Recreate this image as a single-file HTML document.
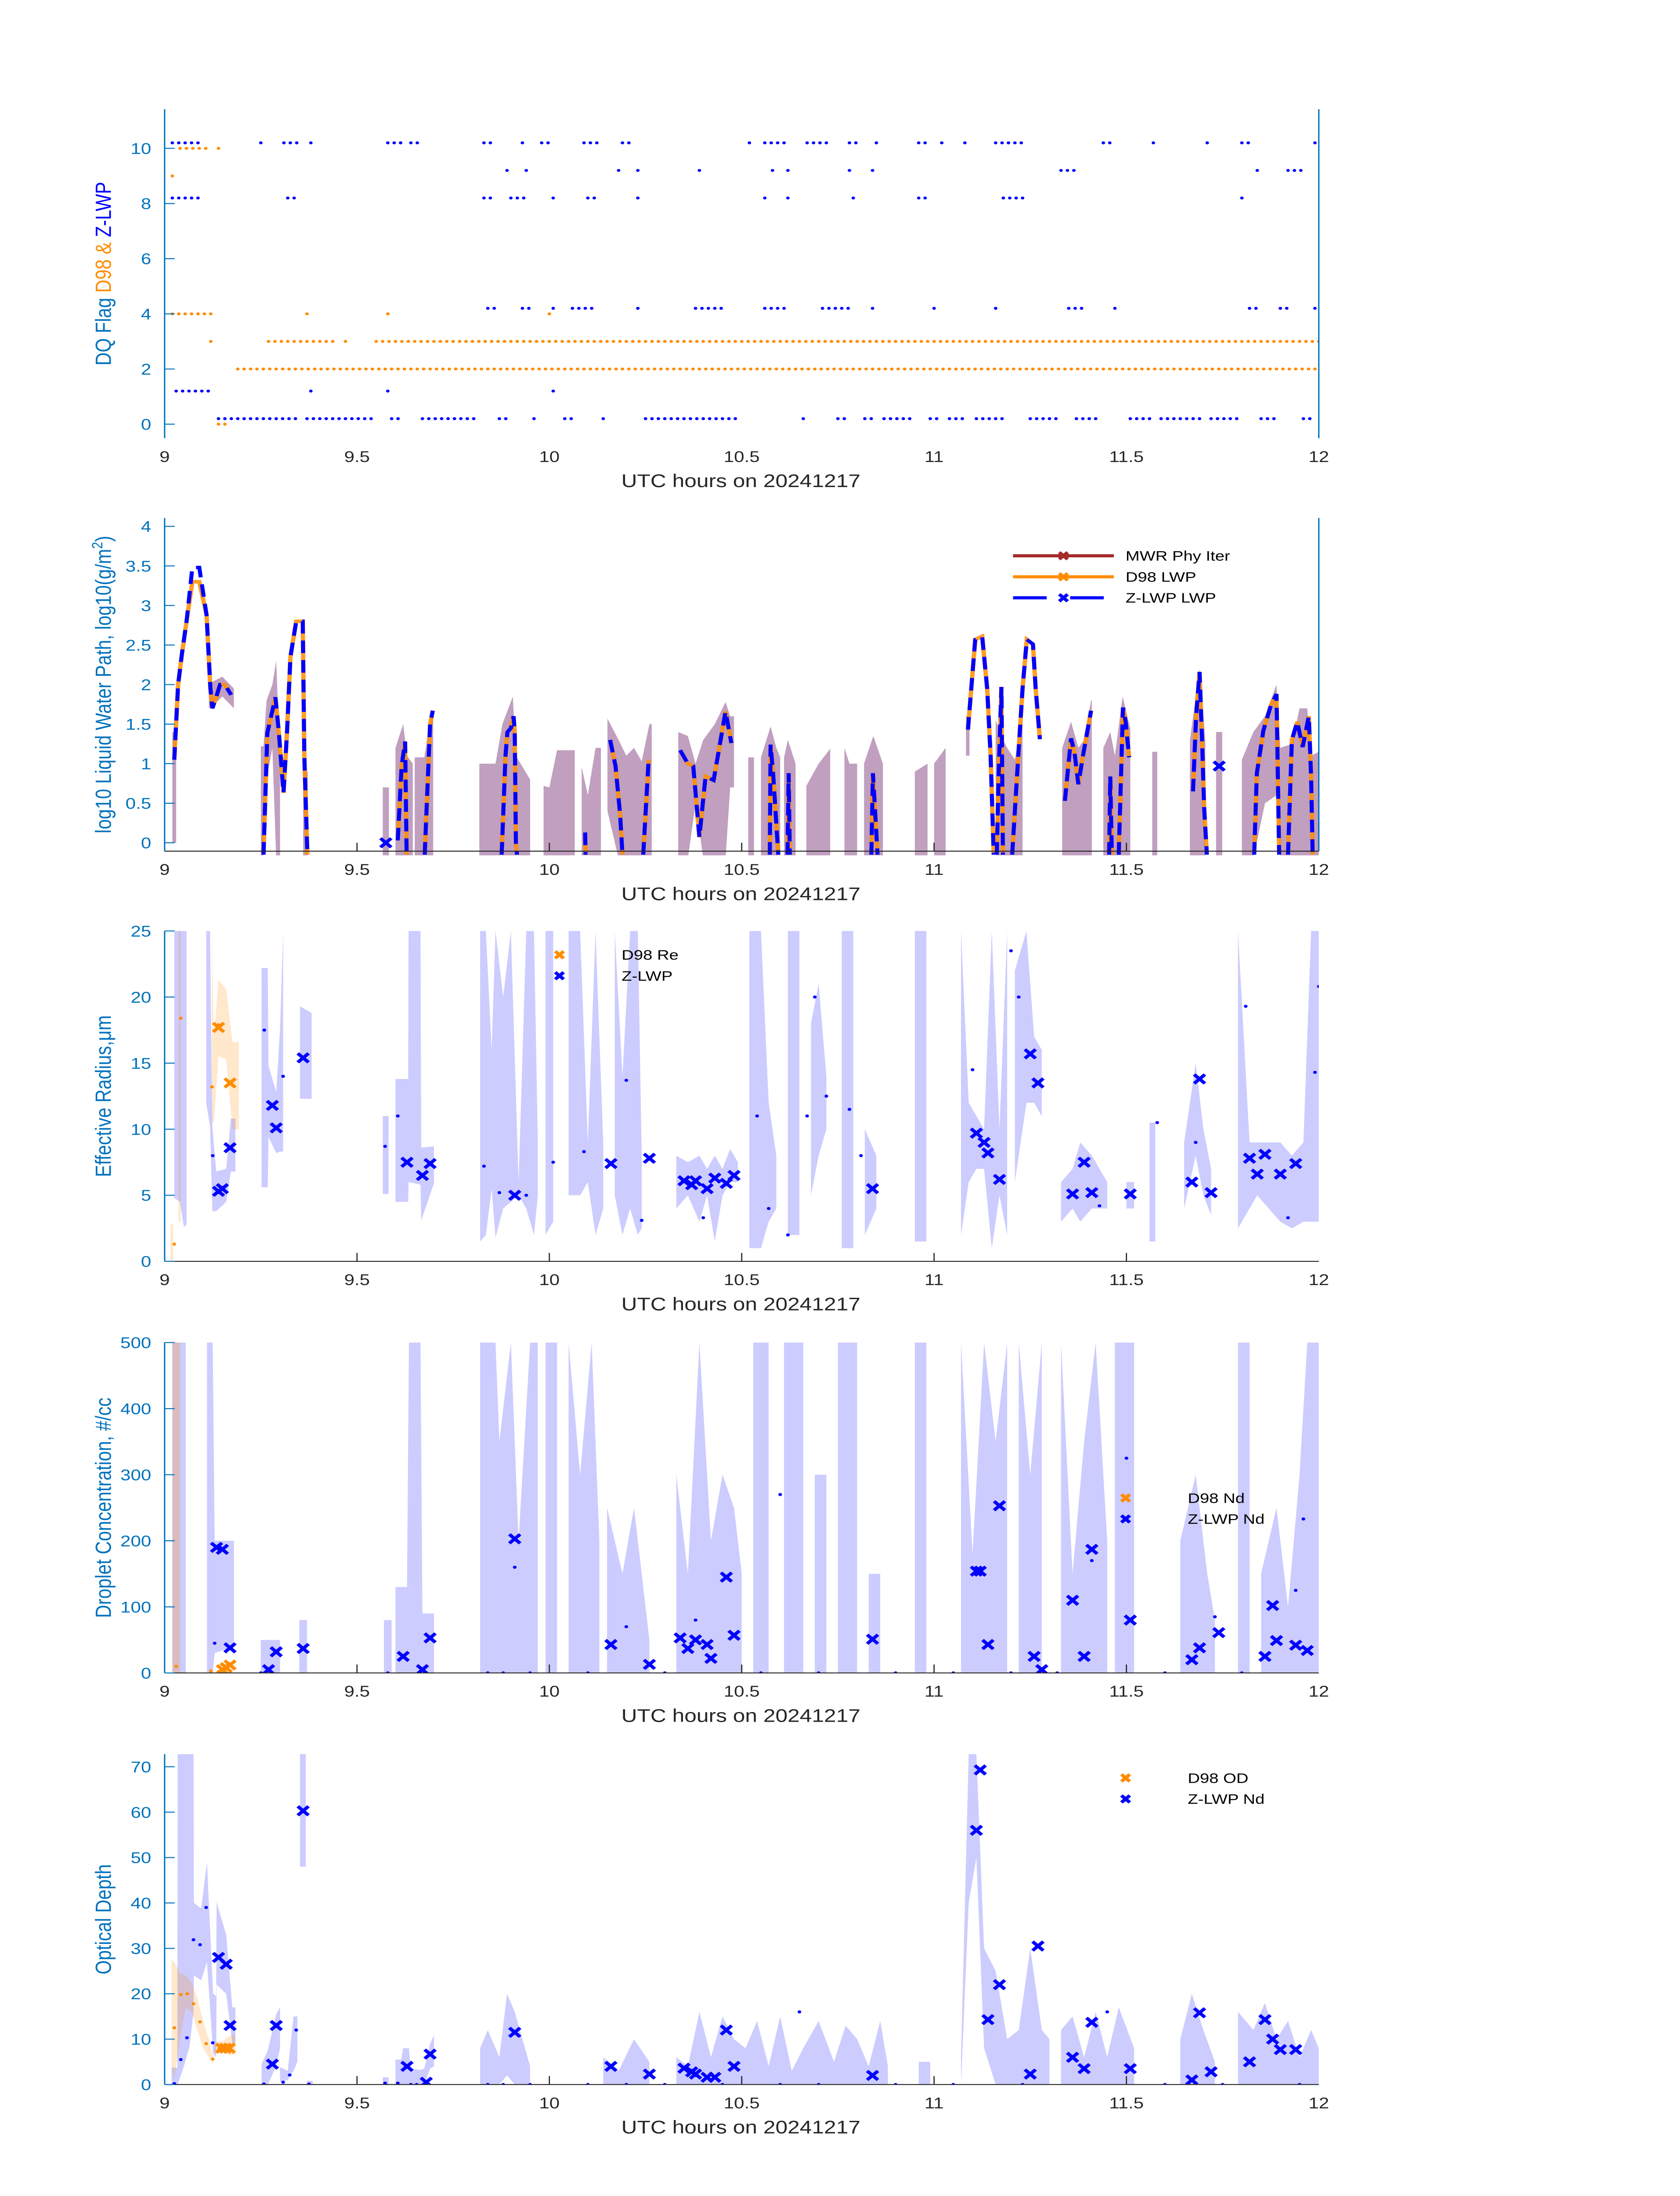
<!DOCTYPE html>
<html><head><meta charset="utf-8"><title>Cloud retrieval QC charts</title>
<style>
html,body{margin:0;padding:0;background:#fff;overflow:hidden;}
svg{display:block;position:absolute;left:0;top:0;width:100vw;height:100vh;font-family:"Liberation Sans","DejaVu Sans",sans-serif;}
</style></head>
<body>
<svg id="fig" xmlns="http://www.w3.org/2000/svg" viewBox="0 0 1000 1568.63" preserveAspectRatio="none"></svg>
<script>
// ---------- Panel 1: DQ flags (runs: level, start hour, end hour) ----------
const zFlagLevels = [10.2,10.2,10.2,10.2,10.2,10.2,10.2,10.2,10.2,10.2,10.2,10.2,10.2,10.2,10.2,10.2,10.2,10.2,10.2,10.2,10.2,10.2,10.2,10.2,10.2,
 9.2,9.2,9.2,9.2,9.2,9.2,9.2,9.2,9.2,9.2,9.2,9.2,
 8.2,8.2,8.2,8.2,8.2,8.2,8.2,8.2,8.2,8.2,8.2,8.2,8.2,
 4.2,4.2,4.2,4.2,4.2,4.2,4.2,4.2,4.2,4.2,4.2,4.2,4.2,4.2,4.2,4.2,
 1.2,1.2,1.2,1.2,
 0.2,0.2,0.2,0.2,0.2,0.2,0.2,0.2,0.2,0.2,0.2,0.2,0.2,0.2,0.2,0.2,0.2,0.2,0.2,0.2,0.2,0.2,0.2];
const zFlagStart = [9.02,9.25,9.31,9.38,9.58,9.64,9.83,9.93,9.98,10.09,10.19,10.52,10.56,10.67,10.78,10.85,10.96,11.02,11.08,11.16,11.44,11.57,11.71,11.80,11.99,
 9.89,9.94,10.18,10.23,10.39,10.58,10.62,10.78,10.84,11.33,11.84,11.92,
 9.02,9.32,9.83,9.90,10.01,10.10,10.23,10.56,10.62,10.79,10.96,11.18,11.80,
 9.84,9.93,10.01,10.06,10.23,10.38,10.56,10.71,10.84,11.00,11.16,11.35,11.47,11.82,11.90,11.99,
 9.03,9.38,9.58,10.01,
 9.14,9.37,9.59,9.67,9.87,9.96,10.04,10.14,10.25,10.66,10.75,10.82,10.87,10.99,11.04,11.11,11.25,11.37,11.51,11.59,11.72,11.85,11.96];
const zFlagEnd = [9.10,9.25,9.35,9.38,9.62,9.66,9.86,9.93,10.01,10.13,10.22,10.52,10.62,10.72,10.80,10.85,10.99,11.02,11.08,11.24,11.47,11.57,11.71,11.83,11.99,
 9.89,9.94,10.18,10.23,10.39,10.58,10.62,10.78,10.84,11.37,11.84,11.96,
 9.10,9.35,9.86,9.94,10.01,10.13,10.23,10.56,10.62,10.79,10.99,11.24,11.80,
 9.86,9.96,10.01,10.12,10.23,10.45,10.62,10.78,10.84,11.00,11.16,11.39,11.47,11.84,11.93,11.99,
 9.12,9.38,9.58,10.01,
 9.35,9.55,9.62,9.81,9.90,9.97,10.07,10.15,10.49,10.66,10.78,10.84,10.94,11.02,11.08,11.19,11.33,11.43,11.56,11.69,11.79,11.89,11.98];
const dFlagLevels = [10,10,9,4,4,4,4,3,3,3,3,2,0];
const dFlagStart = [9.04,9.14,9.02,9.02,9.37,9.58,10.00,9.12,9.27,9.47,9.55,9.19,9.14];
const dFlagEnd   = [9.12,9.14,9.02,9.12,9.37,9.58,10.00,9.12,9.45,9.47,12.0,12.0,9.17];

// ---------- Panel 2: LWP ----------
const lwpT = [9.025,9.035,9.045,9.057,9.072,9.09,9.109,9.119,9.124,9.134,9.144,9.156,9.173,null,
 9.257,9.267,9.288,9.297,9.309,9.318,9.327,9.342,9.359,9.363,9.371,null,
 9.606,9.616,9.625,9.629,null, 9.676,9.69,9.697,null,
 9.876,9.886,9.891,9.9,9.907,9.91,9.913,9.916,null, 10.093,10.094,null,
 10.158,10.172,10.184,10.19,null, 10.244,10.258,null,
 10.34,10.36,10.374,10.39,10.406,10.427,10.458,10.473,null,
 10.573,10.575,10.582,10.595,null, 10.619,10.622,10.625,null, 10.837,10.841,10.846,10.853,null,
 11.088,11.107,11.125,11.138,11.147,11.155,null, 11.163,11.168,11.175,11.179,null,
 11.203,11.22,11.23,11.241,11.257,11.264,11.275,null,
 11.34,11.356,11.365,11.375,11.387,11.408,null, 11.455,11.458,11.462,null, 11.48,11.491,11.498,11.507,null,
 11.673,11.681,11.69,11.696,11.702,11.709,null,
 11.832,11.839,11.856,11.875,11.89,11.897,null, 11.92,11.93,11.944,11.958,11.974,11.98,11.984];
const zLwp = [1.05,2.0,2.39,2.8,3.48,3.48,2.88,1.95,1.70,1.84,2.0,2.0,1.87,null,
 -0.15,1.39,1.84,1.39,0.63,1.39,2.35,2.8,2.8,1.11,-0.15,null,
 0.03,0.97,1.28,-0.15,null, -0.15,1.5,1.67,null,
 -0.15,1.1,1.4,1.45,1.6,1.4,0,-0.15,null, 0.13,-0.15,null,
 1.3,0.97,0.35,-0.15,null, -0.15,1.05,null,
 1.17,1.0,0.97,0.07,0.84,0.79,1.66,1.26,null,
 -0.15,1.24,0.85,-0.15,null, -0.15,0.88,-0.15,null, -0.15,0.88,0.46,-0.15,null,
 1.43,2.57,2.61,1.95,1.1,-0.15,null, -0.15,0.88,1.97,-0.15,null,
 -0.15,1.19,1.95,2.57,2.51,1.95,1.31,null,
 0.53,1.32,1.14,0.74,1.1,1.67,null, -0.15,0.84,-0.15,null, -0.15,1.71,1.53,1.08,null,
 0.65,1.59,2.16,1.39,0.44,-0.15,null,
 -0.15,0.88,1.42,1.73,1.88,-0.15,null, -0.15,1.3,1.53,1.21,1.6,0.83,-0.15];
const d98Lwp = [1.05,2.0,2.39,2.8,3.3,3.3,2.88,1.95,1.70,1.84,2.0,2.0,1.87,null,
 -0.15,1.39,1.84,1.39,0.63,1.39,2.35,2.8,2.8,1.11,-0.15,null,
 0.03,0.97,1.28,-0.15,null, -0.15,1.5,1.67,null,
 -0.15,1.1,1.4,1.45,1.6,1.4,0,-0.15,null, 0.13,-0.15,null,
 1.3,0.97,0.35,-0.15,null, -0.15,1.05,null,
 1.17,1.0,0.97,0.07,0.84,0.79,1.66,1.26,null,
 -0.15,1.24,0.85,-0.15,null, -0.15,0.88,-0.15,null, -0.15,0.88,0.46,-0.15,null,
 1.43,2.57,2.61,1.95,1.1,-0.15,null, -0.15,0.88,1.97,-0.15,null,
 -0.15,1.19,1.95,2.57,2.51,1.95,1.31,null,
 0.53,1.32,1.14,0.74,1.1,1.67,null, -0.15,0.84,-0.15,null, -0.15,1.71,1.53,1.08,null,
 0.65,1.59,2.16,1.39,0.44,-0.15,null,
 -0.15,0.88,1.42,1.73,1.88,-0.15,null, -0.15,1.3,1.53,1.21,1.6,0.83,-0.15];
const lwpMarkT = [9.575,11.741];
const lwpMarkV = [0,0.97];
const lwpBandT = [9.02,9.03,null,9.115,9.13,9.15,9.18,null,9.25,9.257,9.265,9.28,9.29,9.3,null,9.36,9.372,null,9.567,9.583,null,
 9.6,9.62,9.63,9.645,null,9.65,9.675,9.685,9.695,9.698,null,9.818,9.86,9.878,9.905,9.913,9.95,null,
 9.985,10.0,10.02,10.066,null,10.084,10.1,10.12,10.134,null,10.151,10.18,10.20,10.22,10.24,10.26,10.266,null,
 10.335,10.36,10.38,10.40,10.43,10.458,10.47,10.48,null,10.517,10.532,null,10.55,10.575,10.59,10.60,null,10.61,10.62,10.64,null,
 10.668,10.7,10.73,null,10.767,10.78,10.80,null,10.818,10.842,10.867,null,10.95,10.983,null,11.0,11.03,null,11.083,11.092,null,
 11.16,11.18,11.19,11.21,11.23,null,11.333,11.356,11.375,11.39,11.408,11.41,null,11.44,11.458,11.47,11.49,11.51,null,
 11.567,11.58,null,11.665,11.69,11.705,null,11.733,11.749,null,11.80,11.83,11.86,11.89,11.9,11.93,11.95,11.97,11.98,12.0];
const lwpBandLo = [0,0,null,1.7,1.75,1.85,1.7,null,-0.2,-0.2,0.8,1.2,-0.2,-0.2,null,-0.2,-0.2,null,-0.2,-0.2,null,
 -0.2,-0.2,-0.2,-0.2,null,-0.2,-0.2,-0.2,-0.2,-0.2,null,-0.2,-0.2,-0.2,-0.2,-0.2,-0.2,null,
 -0.2,-0.2,-0.2,-0.2,null,-0.2,-0.2,-0.2,-0.2,null,0.4,-0.2,-0.2,-0.2,-0.2,-0.2,-0.2,null,
 -0.2,-0.2,0.5,-0.2,-0.2,-0.2,0.7,0.7,null,-0.2,-0.2,null,-0.2,-0.2,-0.2,-0.2,null,-0.2,-0.2,-0.2,null,
 -0.2,-0.2,-0.2,null,-0.2,-0.2,-0.2,null,-0.2,-0.2,-0.2,null,-0.2,-0.2,null,-0.2,-0.2,null,1.1,1.1,null,
 -0.2,-0.2,-0.2,-0.2,-0.2,null,-0.2,-0.2,-0.2,-0.2,-0.2,-0.2,null,-0.2,-0.2,-0.2,-0.2,-0.2,null,
 -0.2,-0.2,null,-0.2,-0.2,-0.2,null,-0.2,-0.2,null,-0.2,-0.2,0.5,0.6,-0.2,-0.2,-0.2,-0.2,-0.2,-0.2];
const lwpBandHi = [1.4,1.4,null,2.0,2.05,2.1,1.95,null,1.22,1.22,1.8,2.0,2.3,1.0,null,0.9,0.9,null,0.7,0.7,null,
 1.2,1.5,1.1,1.0,null,1.08,1.08,1.4,1.67,1.67,null,1.0,1.0,1.5,1.85,1.1,0.8,null,
 0.72,0.7,1.17,1.17,null,0.96,0.6,1.2,1.2,null,1.57,1.3,1.1,1.2,1.03,1.5,1.5,null,
 1.4,1.35,1.0,1.3,1.5,1.78,1.6,1.6,null,1.08,1.08,null,1.08,1.47,1.2,1.08,null,1.08,1.3,1.0,null,
 0.72,1.0,1.19,null,1.2,1.0,1.0,null,1.0,1.35,1.0,null,0.9,1.0,null,1.0,1.2,null,1.6,1.6,null,
 1.55,1.3,1.2,1.05,1.6,null,1.2,1.53,1.2,1.3,1.8,1.8,null,1.2,1.4,1.1,1.85,1.45,null,
 1.15,1.15,null,1.3,2.2,1.3,null,1.4,1.4,null,1.05,1.4,1.6,2.0,1.2,1.25,1.7,1.7,1.1,1.15];

// ---------- Panel 3: effective radius ----------
const reBandT = [9.025,9.04,9.05,9.057,null,9.108,9.118,9.124,9.134,9.16,9.172,9.184,null,9.252,9.268,9.27,9.29,9.30,9.308,null,9.352,9.382,null,9.567,9.582,null,
 9.60,9.633,9.634,9.665,9.667,9.70,null,9.82,9.835,9.85,9.86,9.88,9.90,9.92,9.94,9.96,9.97,null,9.99,10.01,null,10.05,10.08,10.10,10.12,10.14,null,
 10.17,10.19,10.21,10.23,10.24,null,10.33,10.36,10.39,10.41,10.43,10.45,10.47,10.49,null,10.52,10.55,10.57,10.59,null,10.62,10.65,null,10.68,10.70,10.72,null,
 10.76,10.79,null,10.82,10.85,null,10.95,10.98,null,11.07,11.09,11.11,11.13,11.15,11.17,11.19,null,11.21,11.24,11.26,11.28,null,
 11.33,11.36,11.38,11.41,11.43,11.45,null,11.50,11.52,null,11.56,11.575,null,11.65,11.68,11.70,11.72,null,11.79,11.82,11.84,11.87,11.90,11.93,11.96,11.98,12.0];
const reBandLo = [4.8,4.5,2.6,2.8,null,12,10.2,3.8,3.8,4.5,6.8,6.8,null,5.6,5.6,9.4,8.2,8.3,8.3,null,12.3,12.3,null,5.1,5.1,null,
 4.5,4.5,6,5.8,3.1,5.9,null,1.5,2,5.5,1.8,4,4.5,5,4,2,5,null,2,3,null,5,5,6,2,4,null,
 5,2,4,2,2.5,null,4,5,3,5,1.5,5,6,6,null,1,1,3,4,null,2,2,null,5,8,10,null,
 1,1,null,2,4,null,1.5,1.5,null,2,6,7,7,1,5,2,null,6,12,12,11,null,
 3,4,3,4,4,4,null,4,4,null,1.5,1.5,null,4,8,5,3.5,null,2.5,4,5,4,3,2.5,3,3,3];
const reBandHi = [25,25,25,25,null,25,25,10.2,6.8,7,10.8,10.8,null,22.2,22.2,14.8,12.8,17.6,25,null,19.3,18.8,null,11,11,null,
 13.8,13.8,25,25,8.6,8.7,null,25,25,16,25,20,25,6,25,25,9,null,25,25,null,25,25,9,25,9,null,
 25,14,25,25,8,null,8,7.5,8,7,8,7,8.5,7.5,null,25,25,12,8,null,25,25,null,18,21,14,null,
 25,25,null,10,8,null,25,25,null,25,12,11,10,25,10,25,null,22,25,17,16,null,
 6,7,9,8,7,6,null,6,6,null,10.5,10.5,null,9,15,10,7,null,25,9,9,9,9,8,9,25,25];
const reOrBandT = [9.015,9.022,null,9.036,9.042,null,9.123,9.128,9.14,9.16,9.176,9.193];
const reOrBandLo = [0,0,null,3,3,null,10.5,10.5,15.5,15.3,10,10];
const reOrBandHi = [2.8,2.8,null,25,25,null,25,17,21.3,20.6,16.6,16.6];
const reZxT = [9.14,9.15,9.17,9.28,9.29,9.36,9.63,9.67,9.69,9.91,10.16,10.26,10.35,10.37,10.38,10.41,10.43,10.46,10.48,10.84,11.11,11.13,11.14,11.17,11.25,11.27,11.36,11.39,11.41,11.51,11.67,11.69,11.72,11.82,11.84,11.86,11.90,11.94];
const reZxV = [5.3,5.5,8.6,11.8,10.1,15.4,7.5,6.5,7.4,5,7.4,7.8,6.1,5.8,6.1,5.5,6.3,5.9,6.5,5.5,9.7,9.0,8.2,6.2,15.7,13.5,5.1,7.5,5.2,5.1,6.0,13.8,5.2,7.8,6.6,8.1,6.6,7.4];
const reDxT = [9.14,9.17];
const reDxV = [17.7,13.5];
const reZdotT = [9.125,9.259,9.308,9.573,9.606,9.83,9.87,9.94,10.01,10.09,10.20,10.24,10.40,10.54,10.57,10.62,10.67,10.69,10.72,10.78,10.81,11.10,11.22,11.20,11.68,11.81,11.92,11.99,12.0,11.43,11.58];
const reZdotV = [8,17.5,14,8.7,11,7.2,5.2,5,7.5,8.3,13.7,3.1,3.3,11,4,2,11,20,12.5,11.5,8,14.5,20,23.5,9,19.3,3.3,14.3,20.8,4.2,10.5];
const reDdotT = [9.025,9.042,9.123,9.14];
const reDdotV = [1.3,18.4,13.2,17.9];

// ---------- Panel 4: droplet concentration ----------
const ndBandT = [9.02,9.055,null,9.11,9.125,9.13,9.18,null,9.25,9.30,null,9.35,9.37,null,9.57,9.59,null,9.60,9.63,9.635,9.665,9.67,9.70,null,
 9.82,9.86,9.87,9.90,9.92,9.95,9.97,null,9.99,10.02,null,10.05,10.08,10.11,10.13,null,10.15,10.19,10.22,10.26,null,
 10.33,10.36,10.39,10.42,10.45,10.48,10.50,null,10.53,10.57,null,10.61,10.66,null,10.69,10.72,null,10.75,10.80,null,10.83,10.86,null,10.95,10.98,null,
 11.07,11.10,11.13,11.16,11.19,null,11.22,11.25,11.28,null,11.33,11.36,11.39,11.42,11.45,null,11.47,11.52,null,11.64,11.68,11.71,11.73,null,
 11.79,11.82,null,11.85,11.89,11.92,11.95,11.97,12.0];
const ndBandLo = [0,0,null,0,0,30,40,null,0,0,null,0,0,null,0,0,null,0,0,0,0,0,0,null,
 0,0,0,0,0,0,0,null,0,0,null,0,0,0,0,null,0,0,0,0,null,
 0,0,0,0,0,0,0,null,0,0,null,0,0,null,0,0,null,0,0,null,0,0,null,0,0,null,
 0,0,0,0,0,null,0,0,0,null,0,0,0,0,0,null,0,0,null,0,0,0,0,null,
 0,0,null,0,0,0,0,0,0];
const ndBandHi = [500,500,null,500,500,200,200,null,50,50,null,80,80,null,80,80,null,130,130,500,500,90,90,null,
 500,500,350,500,200,500,500,null,500,500,null,500,300,500,200,null,250,150,250,50,null,
 300,150,500,200,300,250,150,null,500,500,null,500,500,null,300,300,null,500,500,null,150,150,null,500,500,null,
 500,180,500,350,500,null,500,300,500,null,500,150,350,500,200,null,500,500,null,200,300,150,80,null,
 500,500,null,150,250,100,300,500,500];
const ndOrBandT = [9.02,9.04];
const ndOrBandLo = [0,0];
const ndOrBandHi = [500,500];
const ndZxT = [9.135,9.15,9.17,9.27,9.29,9.36,9.62,9.67,9.69,9.91,10.16,10.26,10.34,10.36,10.38,10.41,10.42,10.46,10.48,10.84,11.11,11.12,11.14,11.17,11.26,11.28,11.36,11.39,11.41,11.51,11.67,11.69,11.74,11.86,11.88,11.89,11.94,11.97];
const ndZxV = [190,187,38,5,32,37,25,5,53,203,43,13,53,37,50,43,22,145,57,51,154,154,43,253,25,5,110,25,187,80,20,38,61,25,102,49,42,34];
const ndDxT = [9.15,9.16,9.17];
const ndDxV = [5,8,12];
const ndZdotT = [9.13,9.91,10.20,10.38,10.60,11.41,11.50,11.96,11.73,11.94,9.25,9.58,9.84,9.88,9.95,10.1,10.3,10.55,10.7,10.9,11.05,11.2,11.32,11.6,11.8];
const ndZdotV = [45,160,70,80,270,170,325,233,85,125,0,0,0,0,0,0,0,0,0,0,0,0,0,0,0];
const ndDdotT = [9.03,9.12,9.14];
const ndDdotV = [10,3,2];

// ---------- Panel 5: optical depth ----------
const odBandT = [9.018,9.033,9.034,9.05,9.065,9.075,9.076,9.095,9.11,9.126,9.134,9.135,9.16,9.176,9.184,null,
 9.252,9.268,9.29,9.30,null,9.30,9.32,9.335,9.345,null,9.352,9.367,null,9.37,9.385,null,9.567,9.582,null,
 9.60,9.615,9.62,9.635,9.64,9.665,9.675,9.69,9.70,null,9.82,9.84,9.87,9.89,9.91,9.93,9.95,null,10.14,10.18,10.22,10.26,null,
 10.33,10.36,10.39,10.42,10.45,10.48,10.51,10.54,10.57,10.60,10.63,10.66,10.70,10.74,10.77,10.80,10.83,10.86,10.88,null,10.96,10.99,null,
 11.07,11.09,11.11,11.13,11.16,11.19,11.22,11.25,11.28,11.30,null,11.33,11.36,11.39,11.42,11.45,11.48,11.52,null,11.64,11.67,11.70,11.73,null,
 11.79,11.83,11.86,11.89,11.92,11.95,11.98,12.0];
const odBandLo = [0,0,0,4,8.5,16,24,23,27,7,6,22,20,9,9,null,
 0,0,4,8,null,0.5,1,3,5,null,48,48,null,0,0,null,0,0,null,
 0,0,0,0,0,0,0,3.5,4,null,0,0,0,2,0,0,0,null,0,0,0,0,null,
 0,0,0,0,0,0,0,0,0,0,0,0,0,0,0,0,0,0,0,null,0,0,null,
 0,40,50,8,0,0,0,0,0,0,null,0,0,0,0,0,0,0,null,0,0,0,0,null,
 0,0,0,0,0,0,0,0];
const odBandHi = [3.7,3.7,72.8,72.8,72.8,72.8,40,38.8,49,20,19.5,40.2,33,17,17,null,
 4.5,7.5,15.5,17,null,3.8,3,15,15,null,72.8,72.8,null,0.8,0.8,null,1.6,1.6,null,
 5.5,5.5,8,8,3.5,3.2,3.5,9,10.8,null,8,12,6,20,16,10,4,null,6,3,10,5,null,
 6,4,16,6,15,10,8,14,4,15,3,8,14,5,13,10,4,14,4,null,5,5,null,
 6,72.8,72.8,30,25,10,12,30,12,10,null,12,15,6,16,6,17,8,null,10,20,12,5,null,
 16,12,18,10,14,6,12,8];
const odOrBandT = [9.018,9.025,9.04,9.055,9.07,9.085,9.10,9.115,9.125,9.13,9.134,9.15,9.17,9.184];
const odOrBandLo = [4,1,10,17,16,12,8,6,4.5,7.5,7,7,6.5,6.5];
const odOrBandHi = [27.5,27,24.5,24,22.5,19,14,10,6.5,8.5,9.5,9.5,10.8,10.8];
const odZxT = [9.14,9.16,9.17,9.28,9.29,9.36,9.63,9.68,9.69,9.91,10.16,10.26,10.35,10.37,10.38,10.41,10.43,10.46,10.48,10.84,11.11,11.12,11.14,11.17,11.25,11.27,11.36,11.39,11.41,11.51,11.67,11.69,11.72,11.82,11.86,11.88,11.90,11.94];
const odZxV = [28,26.5,13,4.5,13,60.3,4,0.5,6.7,11.5,4,2.3,3.6,2.8,2.3,1.6,1.6,12,4,2,56,69.3,14.3,22,2.3,30.5,6,3.5,13.7,3.5,1,15.8,2.8,5,14.3,10,7.7,7.7];
const odDxT = [9.148,9.158,9.168];
const odDxV = [8,8,8];
const odZdotT = [9.025,9.042,9.058,9.075,9.092,9.108,9.125,9.258,9.308,9.325,9.342,9.375,9.573,9.606,9.64,9.655,9.84,9.88,9.95,10.1,10.2,10.3,10.45,10.6,10.65,10.7,10.9,11.05,11.23,11.45,11.6,11.75,11.95];
const odZdotV = [0.2,5.5,10.3,31.9,30.8,39,9.2,0.1,0.5,2.1,12,0.1,0.3,0.3,0,0,0,0,0,0,0,0,0,0,16,0,0,0,0,16,0,0,0];
const odDdotT = [9.025,9.042,9.059,9.075,9.092,9.108,9.125,9.142];
const odDdotV = [12.5,19.8,20,17.8,13.8,9,5.6,7.9];

const xTicks = [9,9.5,10,10.5,11,11.5,12];
const xTickLabels = ["9","9.5","10","10.5","11","11.5","12"];

// ---------- drawing helpers ----------
const NS = "http://www.w3.org/2000/svg";
const svg = document.getElementById("fig");
const X0 = 98, X1 = 785, TMIN = 9, TMAX = 12;
const BLUE = "#0000ff", ORANGE = "#ff8c00", AXBLUE = "#0072bd", DARK = "#262626";
function el(tag, attrs, parent) {
  const e = document.createElementNS(NS, tag);
  for (const k in attrs) e.setAttribute(k, attrs[k]);
  (parent || svg).appendChild(e);
  return e;
}
function sx(t) { return X0 + (t - TMIN) / (TMAX - TMIN) * (X1 - X0); }
let clipN = 0;

function makePanel(p) {
  const g = el("g", {});
  
  
  const sy = v => p.yBot - (v - p.vMin) / (p.vMax - p.vMin) * (p.yBot - p.yTop);
  const id = "clip" + (clipN++);
  const cp = el("clipPath", { id: id }, g);
  el("rect", { x: X0, y: p.yTop, width: X1 - X0, height: p.yBot - p.yTop + (p.extraClip || 0) }, cp);
  const plot = el("g", { "clip-path": "url(#" + id + ")" }, g);
  
  
  const yax = el("line", { x1: X0, y1: p.yTop, x2: X0, y2: p.yBot, stroke: AXBLUE, "stroke-width": 0.8 }, g);
  
  
  if (p.rightLine) {
    const r = el("line", { x1: X1, y1: p.yTop, x2: X1, y2: p.yBot, stroke: AXBLUE, "stroke-width": 0.8 }, g);
    
    
  }
  if (p.bottomLine) {
    const b = el("line", { x1: X0, y1: p.yBot, x2: X1, y2: p.yBot, stroke: DARK, "stroke-width": 0.7 }, g);
    
    
  }
  p.yTicks.forEach((v, i) => {
    const y = sy(v);
    el("line", { x1: X0, y1: y, x2: X0 + 6, y2: y, stroke: AXBLUE, "stroke-width": 0.7 }, g);
    const t = el("text", { x: X0 - 8, y: y + 4, "text-anchor": "end", "font-size": 11, fill: AXBLUE }, g);
    t.textContent = p.yTickLabels[i];
    
    
  });
  xTicks.forEach((v, i) => {
    const x = sx(v);
    if (p.bottomLine && i > 0 && i < xTicks.length - 1) el("line", { x1: x, y1: p.yBot, x2: x, y2: p.yBot - 6, stroke: DARK, "stroke-width": 0.7 }, g);
    const t = el("text", { x: x, y: p.yBot + 17, "text-anchor": "middle", "font-size": 11, fill: DARK }, g);
    t.textContent = xTickLabels[i];
    
    
  });
  const xt = el("text", { x: 441, y: p.yBot + 35, "text-anchor": "middle", "font-size": 13, fill: DARK }, g);
  xt.textContent = "UTC hours on 20241217";
  
  
  const yc = (p.yTop + p.yBot) / 2;
  const yt = el("text", { x: 0, y: 0, "text-anchor": "middle", "font-size": 13, fill: AXBLUE, transform: "translate(66," + yc + ") rotate(-90)" }, g);
  
  
  p.yTitle(yt);
  return { g: g, plot: plot, sy: sy };
}

function band(P, T, LO, HI, fill, name) {
  let seg = [];
  const flush = () => {
    if (seg.length > 1) {
      const top = seg.map(i => sx(T[i]) + "," + P.sy(HI[i]));
      const bot = seg.slice().reverse().map(i => sx(T[i]) + "," + P.sy(LO[i]));
      const pg = el("polygon", { points: top.concat(bot).join(" "), fill: fill }, P.plot);
      
      
    }
    seg = [];
  };
  for (let i = 0; i < T.length; i++) { if (T[i] === null) flush(); else seg.push(i); }
  flush();
}
function line(P, T, V, attrs, name) {
  let d = "", pen = false;
  for (let i = 0; i < T.length; i++) {
    if (T[i] === null || V[i] === null) { pen = false; continue; }
    d += (pen ? "L" : "M") + sx(T[i]).toFixed(2) + "," + P.sy(V[i]).toFixed(2);
    pen = true;
  }
  const a = Object.assign({ d: d, fill: "none" }, attrs);
  const pth = el("path", a, P.plot);
  
  
}
function xmark(parent, x, y, color, s, name) {
  const pth = el("path", { d: `M${x - s},${y - s}L${x + s},${y + s}M${x - s},${y + s}L${x + s},${y - s}`, stroke: color, "stroke-width": 2.2, fill: "none" }, parent);
  
  
}
function xmarks(P, T, V, color, name) { T.forEach((t, i) => xmark(P.plot, sx(t), P.sy(V[i]), color, 3.2, name)); }
function dots(P, T, V, color, name, r) {
  T.forEach((t, i) => {
    const c = el("circle", { cx: sx(t), cy: P.sy(V[i]), r: r || 1.1, fill: color }, P.plot);
    
    
  });
}
function legendText(parent, x, y, txt) {
  const t = el("text", { x: x, y: y + 3.5, "font-size": 10, fill: "#000" }, parent);
  t.textContent = txt;
  
  
}

// ---------- Panel 1 ----------
const P1 = makePanel({ name: "dq-flag-panel", yTop: 78, yBot: 313, vMin: -0.508, vMax: 11.42, rightLine: true, bottomLine: false,
  yTicks: [0,2,4,6,8,10], yTickLabels: ["0","2","4","6","8","10"],
  yTitle: t => {
    const a = el("tspan", { fill: AXBLUE }, t); a.textContent = "DQ Flag ";
    const b = el("tspan", { fill: ORANGE }, t); b.textContent = "D98 & ";
    const c = el("tspan", { fill: BLUE }, t); c.textContent = "Z-LWP";
  } });
function flagRuns(levels, starts, ends, color, name) {
  levels.forEach((lv, i) => {
    const step = 1 / 60;
    for (let t = starts[i]; t <= ends[i] + 1e-6; t += step) {
      const c = el("circle", { cx: sx(t), cy: P1.sy(lv), r: 1.05, fill: color }, P1.plot);
      
      
    }
  });
}
flagRuns(dFlagLevels, dFlagStart, dFlagEnd, ORANGE, "d98-flag-dot");
flagRuns(zFlagLevels, zFlagStart, zFlagEnd, BLUE, "zlwp-flag-dot");

// ---------- Panel 2 ----------
const P2 = makePanel({ name: "lwp-panel", yTop: 370, yBot: 608, vMin: -0.106, vMax: 4.106, rightLine: true, bottomLine: true, extraClip: 3,
  yTicks: [0,0.5,1,1.5,2,2.5,3,3.5,4], yTickLabels: ["0","0.5","1","1.5","2","2.5","3","3.5","4"],
  yTitle: t => {
    const a = el("tspan", {}, t); a.textContent = "log10 Liquid Water Path, log10(g/m";
    const b = el("tspan", { "baseline-shift": "super", "font-size": 9 }, t); b.textContent = "2";
    const c = el("tspan", {}, t); c.textContent = ")";
  } });
band(P2, lwpBandT, lwpBandLo, lwpBandHi, "#c09fbf", "lwp-uncertainty-band");
line(P2, lwpT, d98Lwp, { stroke: ORANGE, "stroke-width": 2.6, "stroke-opacity": 0.85 }, "d98-lwp-line");
line(P2, lwpT, zLwp, { stroke: BLUE, "stroke-width": 2.4, "stroke-dasharray": "9,5" }, "zlwp-lwp-line");
xmarks(P2, lwpMarkT, lwpMarkV, BLUE, "zlwp-lwp-marker");
(function () {
  const lg = el("g", {});
  
  
  el("line", { x1: 603, y1: 397, x2: 663, y2: 397, stroke: "#a52a2a", "stroke-width": 2.2 }, lg);
  xmark(lg, 633, 397, "#a52a2a", 2.5, "legend-marker");
  legendText(lg, 670, 397, "MWR Phy Iter");
  el("line", { x1: 603, y1: 412, x2: 663, y2: 412, stroke: ORANGE, "stroke-width": 2.2 }, lg);
  xmark(lg, 633, 412, ORANGE, 2.5, "legend-marker");
  legendText(lg, 670, 412, "D98 LWP");
  el("line", { x1: 603, y1: 427, x2: 623, y2: 427, stroke: BLUE, "stroke-width": 2.2 }, lg);
  el("line", { x1: 637, y1: 427, x2: 657, y2: 427, stroke: BLUE, "stroke-width": 2.2 }, lg);
  xmark(lg, 633, 427, BLUE, 2.5, "legend-marker");
  legendText(lg, 670, 427, "Z-LWP LWP");
})();

// ---------- Panel 3 ----------
const P3 = makePanel({ name: "effective-radius-panel", yTop: 665, yBot: 901, vMin: 0, vMax: 25, rightLine: false, bottomLine: true,
  yTicks: [0,5,10,15,20,25], yTickLabels: ["0","5","10","15","20","25"],
  yTitle: t => { t.textContent = "Effective Radius,\u03bcm"; } });
band(P3, reBandT, reBandLo, reBandHi, "rgba(0,0,255,0.2)", "zlwp-re-band");
band(P3, reOrBandT, reOrBandLo, reOrBandHi, "rgba(255,140,0,0.2)", "d98-re-band");
dots(P3, reZdotT, reZdotV, BLUE, "zlwp-re-dot");
dots(P3, reDdotT, reDdotV, ORANGE, "d98-re-dot");
xmarks(P3, reDxT, reDxV, ORANGE, "d98-re-marker");
xmarks(P3, reZxT, reZxV, BLUE, "zlwp-re-marker");
(function () {
  const lg = el("g", {});
  
  
  xmark(lg, 333, 682, ORANGE, 2.5, "legend-marker"); legendText(lg, 370, 682, "D98 Re");
  xmark(lg, 333, 697, BLUE, 2.5, "legend-marker"); legendText(lg, 370, 697, "Z-LWP");
})();

// ---------- Panel 4 ----------
const P4 = makePanel({ name: "droplet-concentration-panel", yTop: 959, yBot: 1195, vMin: 0, vMax: 500, rightLine: false, bottomLine: true,
  yTicks: [0,100,200,300,400,500], yTickLabels: ["0","100","200","300","400","500"],
  yTitle: t => { t.textContent = "Droplet Concentration, #/cc"; } });
band(P4, ndBandT, ndBandLo, ndBandHi, "rgba(0,0,255,0.2)", "zlwp-nd-band");
band(P4, ndOrBandT, ndOrBandLo, ndOrBandHi, "rgba(255,140,0,0.25)", "d98-nd-band");
dots(P4, ndZdotT, ndZdotV, BLUE, "zlwp-nd-dot");
dots(P4, ndDdotT, ndDdotV, ORANGE, "d98-nd-dot");
xmarks(P4, ndDxT, ndDxV, ORANGE, "d98-nd-marker");
xmarks(P4, ndZxT, ndZxV, BLUE, "zlwp-nd-marker");
(function () {
  const lg = el("g", {});
  
  
  xmark(lg, 670, 1070, ORANGE, 2.5, "legend-marker"); legendText(lg, 707, 1070, "D98 Nd");
  xmark(lg, 670, 1085, BLUE, 2.5, "legend-marker"); legendText(lg, 707, 1085, "Z-LWP Nd");
})();

// ---------- Panel 5 ----------
const P5 = makePanel({ name: "optical-depth-panel", yTop: 1253, yBot: 1489, vMin: 0, vMax: 72.78, rightLine: false, bottomLine: true,
  yTicks: [0,10,20,30,40,50,60,70], yTickLabels: ["0","10","20","30","40","50","60","70"],
  yTitle: t => { t.textContent = "Optical Depth"; } });
band(P5, odBandT, odBandLo, odBandHi, "rgba(0,0,255,0.2)", "zlwp-od-band");
band(P5, odOrBandT, odOrBandLo, odOrBandHi, "rgba(255,140,0,0.2)", "d98-od-band");
dots(P5, odZdotT, odZdotV, BLUE, "zlwp-od-dot");
dots(P5, odDdotT, odDdotV, ORANGE, "d98-od-dot");
xmarks(P5, odDxT, odDxV, ORANGE, "d98-od-marker");
xmarks(P5, odZxT, odZxV, BLUE, "zlwp-od-marker");
(function () {
  const lg = el("g", {});
  
  
  xmark(lg, 670, 1270, ORANGE, 2.5, "legend-marker"); legendText(lg, 707, 1270, "D98 OD");
  xmark(lg, 670, 1285, BLUE, 2.5, "legend-marker"); legendText(lg, 707, 1285, "Z-LWP Nd");
})();
</script>
</body></html>
